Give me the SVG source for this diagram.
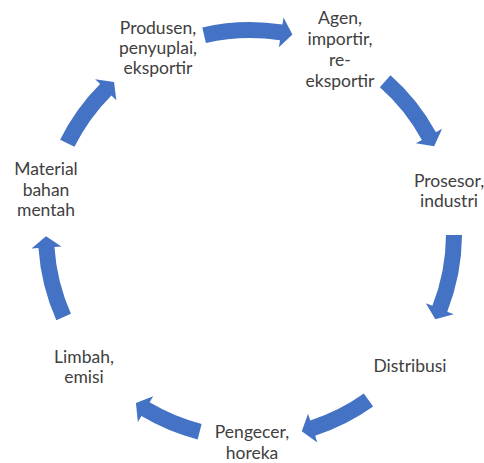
<svg xmlns="http://www.w3.org/2000/svg" width="484" height="463" viewBox="0 0 484 463">
<style>
.arrow{fill:#4472C4;}
.lbl{font-family:Lato,"Noto Sans",sans-serif;font-size:17.5px;fill:#404040;text-anchor:middle;}
</style>
<rect width="484" height="463" fill="#ffffff"/>
<g id="connectors">
<path class="arrow" d="M202.31,27.43 A212,212 0 0 1 282.43,24.50 L283.50,17.58 L292.41,34.46 L278.92,47.22 L279.99,40.31 A196,196 0 0 0 205.91,43.02 Z"/>
<path class="arrow" d="M390.48,75.22 A212,212 0 0 1 435.96,132.19 L442.10,128.83 L434.13,146.18 L415.78,143.24 L421.92,139.88 A196,196 0 0 0 379.87,87.20 Z"/>
<path class="arrow" d="M462.00,235.11 A212,212 0 0 1 447.25,311.70 L453.76,314.26 L435.34,319.25 L425.85,303.27 L432.36,305.83 A196,196 0 0 0 446.00,235.03 Z"/>
<path class="arrow" d="M373.11,406.59 A212,212 0 0 1 315.16,435.74 L317.31,442.40 L301.77,431.32 L308.09,413.85 L310.24,420.51 A196,196 0 0 0 363.82,393.57 Z"/>
<path class="arrow" d="M197.64,439.43 A212,212 0 0 1 141.43,416.09 L137.84,422.10 L135.93,403.12 L153.21,396.33 L149.62,402.35 A196,196 0 0 0 201.59,423.93 Z"/>
<path class="arrow" d="M56.33,320.23 A212,212 0 0 1 38.47,248.05 L31.48,248.51 L46.01,236.14 L61.42,246.53 L54.43,246.99 A196,196 0 0 0 70.94,313.72 Z"/>
<path class="arrow" d="M60.11,139.74 A212,212 0 0 1 100.09,84.09 L95.14,79.14 L114.03,81.92 L116.36,100.36 L111.41,95.41 A196,196 0 0 0 74.44,146.85 Z"/>
</g>
<g id="produsen"><text class="lbl" x="158" y="34">Produsen,</text><text class="lbl" x="158" y="54">penyuplai,</text><text class="lbl" x="158" y="74">eksportir</text></g>
<g id="agen"><text class="lbl" x="340" y="24">Agen,</text><text class="lbl" x="340" y="45">importir,</text><text class="lbl" x="340" y="66">re-</text><text class="lbl" x="340" y="87">eksportir</text></g>
<g id="prosesor"><text class="lbl" x="449" y="187">Prosesor,</text><text class="lbl" x="449" y="207">industri</text></g>
<g id="distribusi"><text class="lbl" x="410" y="372">Distribusi</text></g>
<g id="pengecer"><text class="lbl" x="252" y="438">Pengecer,</text><text class="lbl" x="252" y="459">horeka</text></g>
<g id="limbah"><text class="lbl" x="84" y="363">Limbah,</text><text class="lbl" x="84" y="383">emisi</text></g>
<g id="material"><text class="lbl" x="46" y="175">Material</text><text class="lbl" x="46" y="196">bahan</text><text class="lbl" x="46" y="216">mentah</text></g>
</svg>
